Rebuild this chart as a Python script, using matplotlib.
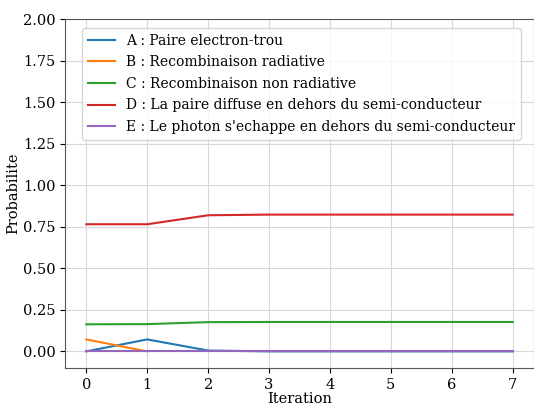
import matplotlib
matplotlib.use('Agg')
import matplotlib.pyplot as plt

plt.rcParams['font.family'] = 'DejaVu Serif'

iterations = [0, 1, 2, 3, 4, 5, 6, 7]
paire = [0.0, 0.072, 0.005, 0.0, 0.0, 0.0, 0.0, 0.0]
rad = [0.072, 0.0]
non_rad = [0.163, 0.164, 0.176, 0.177, 0.177, 0.177, 0.177, 0.177]
diffuse = [0.765, 0.765, 0.819, 0.823, 0.823, 0.823, 0.823, 0.823]
photon = [0.0, 0.0, 0.0, 0.0, 0.0, 0.0, 0.0, 0.0]

labels = ["A : Paire electron-trou",
          "B : Recombinaison radiative",
          "C : Recombinaison non radiative",
          "D : La paire diffuse en dehors du semi-conducteur",
          "E : Le photon s'echappe en dehors du semi-conducteur"]

fig = plt.figure(figsize=(5.34, 4.07), dpi=100)
ax = fig.add_axes([65/534, 1-368/407, 469/534, 349/407])

ax.plot(iterations, paire, label=labels[0])
ax.plot(iterations[:2], rad, label=labels[1])
ax.plot(iterations, non_rad, label=labels[2])
ax.plot(iterations, diffuse, label=labels[3])
ax.plot(iterations, photon, color='tab:purple', label=labels[4])

ax.set_ylim(-0.1, 2.0)
ax.set_yticks([0, 0.25, 0.5, 0.75, 1.0, 1.25, 1.5, 1.75, 2.0])
ax.grid(True, color='#d8d8d8')
for s in ax.spines.values():
    s.set_color('#555555')
ax.set_xlabel('Iteration', fontsize=10.5, labelpad=0)
ax.set_ylabel('Probabilite', fontsize=10.5, labelpad=2)
ax.tick_params(labelsize=10.5)
ax.legend(fontsize=10, loc='upper left', bbox_to_anchor=(17/469, 1 - 9/349),
          borderaxespad=0, handlelength=2.0, labelspacing=0.55)

fig.savefig('out.png', dpi=100)
